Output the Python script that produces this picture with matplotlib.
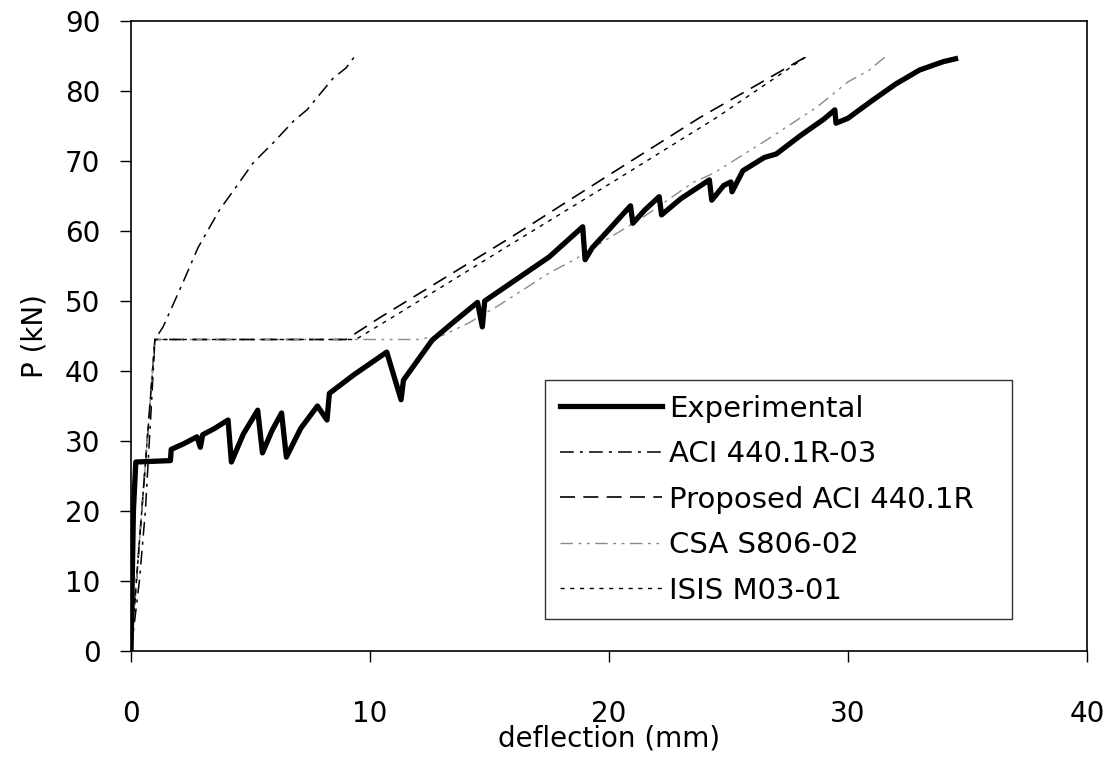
import matplotlib
matplotlib.use('Agg')
import matplotlib.pyplot as plt

plt.rcParams['font.family'] = ['DejaVu Sans']

# experimental load-deflection curve
exp_x = [0, 0.05, 0.1, 0.2, 1.65, 1.68, 2.2, 2.76, 2.9, 3.0, 3.5, 4.06, 4.2, 4.7, 5.3, 5.5,
         5.9, 6.3, 6.5, 7.1, 7.8, 8.2, 8.3, 9.3, 10.7, 11.3, 11.4, 12.6, 13.5, 14.5, 14.7,
         14.8, 16.0, 17.5, 18.9, 19.0, 19.3, 20.0, 20.9, 21.0, 21.5, 22.1, 22.2, 23.0, 24.2,
         24.3, 24.8, 25.1, 25.15, 25.6, 26.5, 27.0, 28.0, 29.0, 29.45, 29.5, 30.0, 31.0,
         32.0, 33.0, 34.0, 34.5]
exp_y = [0, 10, 20, 27, 27.2, 28.8, 29.6, 30.6, 29.1, 30.9, 31.8, 33.0, 27.0, 31.0, 34.4, 28.3,
         31.5, 34.0, 27.7, 31.8, 35.0, 33.0, 36.8, 39.4, 42.7, 35.9, 38.7, 44.4, 47.0, 49.8, 46.3,
         50.0, 52.8, 56.3, 60.6, 55.9, 57.6, 60.2, 63.6, 61.1, 63.0, 64.9, 62.3, 64.6, 67.3,
         64.4, 66.5, 67.0, 65.6, 68.6, 70.5, 71.0, 73.6, 76.0, 77.3, 75.4, 76.1, 78.6,
         81.0, 83.0, 84.2, 84.6]

# ACI 440.1R-03
aci_x = [0, 0.35, 0.6, 0.85, 1.0, 1.34, 1.84, 2.13, 2.8, 3.7, 4.4, 5.1, 5.95, 6.8, 7.36, 8.45, 9.0, 9.37]
aci_y = [0, 10, 20, 35, 44.5, 46.3, 50.1, 52.3, 57.6, 63.0, 66.3, 69.7, 72.6, 75.7, 77.3, 81.8, 83.3, 85]

# Proposed ACI 440.1R
prop_x = [0, 1.0, 9.0, 10.4, 15.9, 20.0, 23.8, 28.3]
prop_y = [0, 44.5, 44.5, 47.6, 59.1, 68.0, 76.2, 85]

# CSA S806-02
csa_x = [0, 1.0, 12.0, 13.05, 14.1, 15.4, 17.5, 18.6, 20.0, 21.4, 23.5, 24.4, 26.6, 28.7, 30.0, 30.9, 31.6]
csa_y = [0, 44.5, 44.5, 45.1, 46.8, 49.4, 54.0, 56.0, 59.0, 61.9, 66.9, 68.3, 73.0, 77.7, 81.3, 83.0, 85]

# ISIS M03-01
isis_x = [0, 1.0, 9.4, 11.0, 15.7, 20.3, 24.5, 28.3]
isis_y = [0, 44.5, 44.5, 47.8, 57.7, 67.3, 76.2, 85]

fig = plt.figure(figsize=(11.17, 7.57), dpi=100)
ax = fig.add_axes([0.1173, 0.14, 0.8558, 0.8323])

ax.plot(exp_x, exp_y, color='black', linewidth=3.8, label='Experimental', zorder=5)
ax.plot(aci_x, aci_y, color='black', linewidth=1.1, dashes=(9, 4, 2, 4), label='ACI 440.1R-03')
ax.plot(prop_x, prop_y, color='black', linewidth=1.2, dashes=(9, 5), label='Proposed ACI 440.1R')
ax.plot(csa_x, csa_y, color='#8a8a8a', linewidth=1.0, dashes=(9, 4, 2, 4, 2, 4), label='CSA S806-02')
ax.plot(isis_x, isis_y, color='black', linewidth=1.0, dashes=(3, 4), label='ISIS M03-01')

ax.set_xlim(0, 40)
ax.set_ylim(0, 90)
ax.set_xticks([0, 10, 20, 30, 40])
ax.set_yticks(range(0, 91, 10))
ax.tick_params(direction='out', length=8, width=1, labelsize=20)
ax.tick_params(axis='x', pad=27)
ax.tick_params(axis='y', pad=14)
for s in ax.spines.values():
    s.set_linewidth(1.2)

ax.set_xlabel('deflection (mm)', fontsize=20, labelpad=-2)
ax.set_ylabel('P (kN)', fontsize=20, labelpad=12)

leg = ax.legend(loc='upper left', bbox_to_anchor=(0.433, 0.430, 0.4885, 0.0), mode='expand',
                fontsize=21, frameon=True, fancybox=False, edgecolor='black',
                handlelength=3.5, handletextpad=0.26, labelspacing=0.6, borderaxespad=0,
                borderpad=0.5)
leg.get_frame().set_linewidth(1.0)

fig.savefig('out.png', dpi=100)
